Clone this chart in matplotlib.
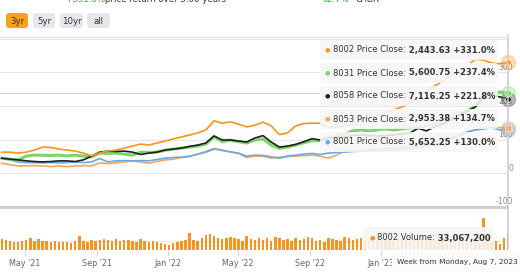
import matplotlib

matplotlib.use("Agg")
import matplotlib.pyplot as plt  # noqa: E402
from matplotlib.patches import FancyBboxPatch, Rectangle  # noqa: E402
import pandas as pd  # noqa: E402

plt.rcParams["font.family"] = ["DejaVu Sans"]

# --- data -------------------------------------------------------------------
# price return since start of the 3yr window (%), every two weeks up to the hovered week
price_dates = pd.date_range(end="2023-08-07", periods=63, freq="14D")

ret_8002 = [63, 63, 60, 63, 69, 78, 77, 72, 69, 66, 60, 52, 61, 66, 69, 75, 81, 87, 84, 90,
            96, 102, 108, 114, 120, 129, 156, 149, 153, 146, 138, 143, 152, 141, 115, 120, 141,
            148, 149, 149, 138, 136, 141, 146, 155, 164, 170, 179, 188, 197, 209, 224, 245, 259,
            274, 292, 304, 319, 339, 336, 328, 325, 331.0]
ret_8031 = [45, 42, 40, 51, 54, 54, 53, 54, 52, 54, 51, 49, 60, 59, 60, 57, 54, 63, 62, 63,
            69, 72, 75, 78, 81, 87, 109, 94, 99, 94, 90, 99, 102, 84, 74, 78, 84, 91, 97, 97,
            105, 111, 117, 126, 129, 126, 129, 132, 129, 132, 135, 135, 141, 146, 155, 164, 173,
            185, 200, 224, 236, 242, 237.4]
ret_8058 = [45, 42, 40, 37, 35, 34, 35, 37, 37, 35, 40, 51, 63, 66, 65, 66, 63, 56, 60, 63,
            69, 72, 75, 80, 84, 90, 111, 99, 99, 96, 93, 105, 112, 93, 78, 81, 86, 94, 103, 99,
            105, 106, 108, 112, 114, 112, 111, 112, 114, 117, 120, 134, 126, 138, 146, 158, 173,
            185, 197, 227, 233, 227, 221.8]
ret_8053 = [30, 26, 22, 22, 23, 22, 20, 22, 20, 22, 23, 22, 31, 29, 31, 34, 37, 34, 30, 35,
            40, 42, 47, 50, 57, 65, 74, 69, 63, 59, 47, 51, 51, 45, 48, 50, 51, 53, 54, 51,
            45, 54, 66, 69, 69, 72, 72, 75, 75, 78, 81, 84, 87, 90, 96, 105, 114, 123, 129,
            132, 138, 136, 134.7]
ret_8001 = [45, 40, 34, 32, 32, 31, 32, 31, 32, 34, 32, 34, 44, 34, 37, 38, 37, 38, 37, 41,
            45, 47, 48, 51, 57, 63, 72, 68, 64, 60, 51, 54, 53, 49, 45, 51, 54, 57, 59, 56,
            60, 62, 63, 65, 66, 66, 68, 69, 69, 72, 75, 78, 81, 84, 90, 99, 111, 123, 129,
            132, 135, 129, 130.0]

tickers = ["8002", "8031", "8058", "8053", "8001"]
close_prices = [2443.63, 5600.75, 7116.25, 2953.38, 5652.25]
colors = ["#f7941d", "#7ad66a", "#1f1f1f", "#f5a65e", "#6ea8e4"]

# weekly volume of 8002, millions of shares
vol_dates = pd.date_range(end="2023-08-07", periods=125, freq="7D")
vol_8002 = [21, 19, 18, 16, 16, 18, 19, 24, 18, 21, 18, 18, 16, 18, 16, 16, 16, 14, 18, 27,
            18, 16, 19, 18, 19, 21, 19, 18, 21, 18, 19, 19, 18, 16, 21, 18, 16, 18, 16, 14,
            12, 10, 14, 16, 18, 19, 33, 19, 18, 23, 29, 31, 27, 23, 21, 23, 25, 23, 21, 18,
            27, 21, 19, 23, 19, 23, 18, 25, 23, 19, 21, 18, 23, 19, 21, 25, 23, 18, 19, 16,
            23, 21, 19, 18, 25, 23, 19, 21, 23, 19, 18, 16, 19, 18, 21, 19, 18, 23, 21, 19,
            18, 19, 23, 21, 18, 25, 19, 21, 23, 18, 19, 21, 18, 19, 23, 19, 21, 25, 62, 27,
            16, 18, 12, 23, 33.0672]

tick_dates = pd.to_datetime(["2021-05-01", "2021-09-01", "2022-01-01",
                             "2022-05-01", "2022-09-01", "2023-01-01"])
tick_labels = ["May '21", "Sep '21", "Jan '22", "May '22", "Sep '22", "Jan '23"]
price_levels = [300, 200, 100, 0, -100]
ranges = ["3yr", "5yr", "10yr", "all"]

# --- layout in pixels -------------------------------------------------------
W, H = 520, 272
fig = plt.figure(figsize=(W / 100, H / 100), dpi=100)


def box(l, t, r, b):
    return [l / W, 1 - b / H, (r - l) / W, (b - t) / H]


x0, x1 = pd.Timestamp("2021-03-19"), pd.Timestamp("2023-08-07")
last = price_dates[-1]

ax = fig.add_axes(box(0, 37, 508, 207))
ax.set_xlim(x0, x1)
ax.set_ylim(-100, 405)
ax.axis("off")
for v in [0, 100, 200, 300, 400]:
    ax.axhline(v, color="#e6e6e6", lw=0.8, zorder=0)
ax.axhline(ret_8031[-1], color="#d6d6d6", lw=0.8, zorder=0)  # hover crosshair
for v in price_levels:
    ax.annotate(f"{v}", xy=(1, v), xycoords=("axes fraction", "data"), xytext=(5, 5),
                textcoords="offset pixels", ha="right", va="center", color="#8a8a8a",
                fontsize=5.6, annotation_clip=False)

series = [ret_8002, ret_8031, ret_8058, ret_8053, ret_8001]
order = [3, 4, 1, 2, 0]
widths = {0: 1.2, 1: 2.2, 2: 1.2, 3: 1.2, 4: 1.2}
for i in order:
    ax.plot(price_dates, series[i], color=colors[i], lw=widths[i], zorder=2 + order.index(i))

ax2 = fig.add_axes(box(0, 210, 508, 250))
ax2.set_xlim(x0, x1)
ax2.set_ylim(0, 77.8)
ax2.axhline(17, color="#e6e6e6", lw=0.8, zorder=0)
ax2.bar(vol_dates, vol_8002, width=4.2, color="#f7941d", zorder=2)
for s in ax2.spines.values():
    s.set_visible(False)
ax2.set_yticks([])
ax2.set_xticks(tick_dates)
ax2.set_xticklabels(tick_labels)
ax2.tick_params(axis="x", length=4, color="#ccd6eb", labelcolor="#666666",
                labelsize=5.8, pad=2.5)
ax2.patch.set_alpha(0)

# overlay in pixel coordinates (y down)
ov = fig.add_axes([0, 0, 1, 1])
ov.set_xlim(0, W)
ov.set_ylim(H, 0)
ov.axis("off")

# summary line, mostly cut off by the top edge
ov.text(65, 1.5, "+331.0%", color="#3aa335", fontsize=6.2, va="baseline")
ov.text(105, 1.5, "price return over 3.00 years", color="#333333", fontsize=6.2,
        va="baseline")
ov.text(322, 1.5, "62.7%", color="#3aa335", fontsize=6.0, va="baseline")
ov.text(356, 1.5, "CAGR", color="#333333", fontsize=6.0, va="baseline")

# range buttons
bx = [6, 33, 60, 87]
bw = [22, 22, 23, 23]
for k, lab in enumerate(ranges):
    fc = "#f7a21b" if k == 0 else "#e6e7eb"
    ov.add_patch(FancyBboxPatch((bx[k], 13), bw[k], 15, boxstyle="round,pad=0,rounding_size=3",
                                fc=fc, ec="none"))
    ov.text(bx[k] + bw[k] / 2, 21, lab, ha="center", va="center", fontsize=6.2,
            color="#333333")

ov.plot([0, 508], [37, 37], color="#e3e3e3", lw=0.8)
ov.add_patch(Rectangle((0, 206), 508, 2.5, fc="#cfcfcf", ec="none"))
ov.plot([508, 508], [35, 248], color="#cccccc", lw=1.1, zorder=1)

# hover markers at the last week
marks = ["o", "D", "o", "s", "v"]
for i in [4, 3, 2, 1, 0]:
    ax.plot(last, series[i][-1], marker="o", ms=10, color=colors[i], alpha=0.3,
            clip_on=False, zorder=20)
    ax.plot(last, series[i][-1], marker=marks[i], ms=4, color=colors[i], mec="white",
            mew=0.4, clip_on=False, zorder=21)

# split tooltips
rows_y = [50, 73, 96, 119, 142]
for i, y in enumerate(rows_y):
    ov.add_patch(FancyBboxPatch((320, y - 10), 178, 20, boxstyle="round,pad=0,rounding_size=3",
                                fc="#f7f7f7", ec="none", alpha=0.88, zorder=5))
    ov.text(327, y, "●", color=colors[i], fontsize=4.5, ha="center", va="center", zorder=6)
    t = ov.text(333, y, f"{tickers[i]} Price Close:", fontsize=6.0, color="#333333",
                va="center", zorder=6)
    ov.annotate(f" {close_prices[i]:,.2f} {series[i][-1]:+.1f}%", xy=(1, 0.5), xycoords=t,
                va="center", fontsize=6.0, fontweight="bold", color="#333333", zorder=6)

ov.add_patch(FancyBboxPatch((363, 227), 131, 23, boxstyle="round,pad=0,rounding_size=3",
                            fc="#f7f7f7", ec="none", alpha=0.88, zorder=5))
ov.text(372, 238, "●", color=colors[0], fontsize=4.5, ha="center", va="center", zorder=6)
t = ov.text(377, 238, "8002 Volume:", fontsize=6.0, color="#333333", va="center", zorder=6)
ov.annotate(f" {vol_8002[-1] * 1e6:,.0f}", xy=(1, 0.5), xycoords=t, va="center",
            fontsize=6.0, fontweight="bold", color="#333333", zorder=6)

ov.add_patch(Rectangle((392, 252), 128, 20, fc="#fbfbfb", ec="none", zorder=5))
ov.text(397, 262, f"Week from Monday, {last:%b} {last.day}, {last.year}", fontsize=5.3,
        color="#333333", va="center", zorder=6)

fig.savefig("out.png", dpi=100)
